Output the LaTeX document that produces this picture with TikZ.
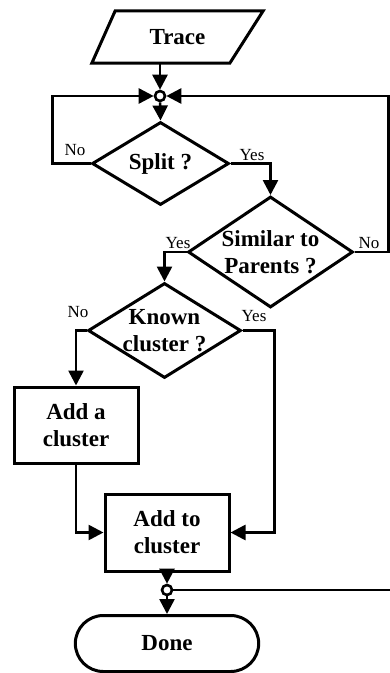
\documentclass[tikz,border=0pt]{standalone}
\usepackage{fontspec}
\setmainfont{Liberation Serif}
\usepackage{tikz}
\usetikzlibrary{positioning,arrows.meta,shapes.geometric,shapes.misc}

\begin{document}
\begin{tikzpicture}[
    x=1pt, y=-1pt,
    >={Triangle[length=15pt,width=15pt]},
    every node/.style={font=\fontsize{23}{27}\selectfont\bfseries},
    io/.style={rectangle, minimum width=171pt, minimum height=52pt, inner sep=0pt},
    decision/.style={draw, diamond, line width=3pt, inner sep=0pt},
    dtext/.style={align=center, inner sep=0pt},
    process/.style={draw, rectangle, line width=3pt, align=center},
    terminal/.style={draw, rounded rectangle, line width=3pt, minimum width=190pt, minimum height=56pt},
    junction/.style={draw, circle, fill=white, line width=2.6pt, minimum size=10pt, inner sep=0pt},
    lbl/.style={font=\fontsize{17}{19}\selectfont, inner sep=0pt},
    flow/.style={->, line width=2.6pt}
]
    \useasboundingbox (0,0) rectangle (390,673);

    \node[io]        (trace)   at (177.5,37)  {Trace};
    \draw[line width=3pt, line join=miter]
        (trace.south west) -- ++(138,0) -- (trace.north east) -- ++(-148,0) -- cycle;
    \node[junction]  (join)    at (160,96)    {};
    \node[decision, minimum width=137pt, minimum height=83pt]  (split)   at (160.5,163.5) {};
    \node[dtext]     (splittxt)   at (split)   {Split ?};
    \node[decision, minimum width=165pt, minimum height=111pt] (similar) at (270.5,252)   {};
    \node[dtext]     (similartxt) at (similar) {Similar to\\Parents ?};
    \node[decision, minimum width=153pt, minimum height=95pt]  (known)   at (164.5,330.5) {};
    \node[dtext]     (knowntxt)   at (known)   {Known\\cluster ?};
    \node[process, minimum width=124pt, minimum height=76pt]   (addnew)  at (76,425)      {Add a\\cluster};
    \node[process, minimum width=124pt, minimum height=77pt]   (addto)   at (167,532.5)   {Add to\\cluster};
    \node[junction]  (merge)   at (167,590)   {};
    \node[terminal]  (done)    at (167,643.5) {Done};
    \coordinate      (out)     at (390,590);

    % branch labels
    \node[lbl] (nosplit)    at (75,150)  {No};
    \node[lbl] (yessplit)   at (252,155) {Yes};
    \node[lbl] (nosimilar)  at (369,243) {No};
    \node[lbl] (yessimilar) at (178,243) {Yes};
    \node[lbl] (noknown)    at (78,312)  {No};
    \node[lbl] (yesknown)   at (254,316) {Yes};

    \draw[flow] (trace.south -| join) -- (join);
    \draw[flow] (join) -- (split.north);
    \draw[flow] (split.west) -- ++(-38,0) |- (join);
    \draw[flow] (split.east) -| (similar.north);
    \draw[flow] (similar.east) -- ++(34,0) |- (join);
    \draw[flow] (similar.west) -| (known.north);
    \draw[flow] (known.west) -| (addnew.north);
    \draw[flow] (known.east) -- ++(32,0) |- (addto.east);
    \draw[flow] (addnew.south) |- (addto.west);
    \draw[flow] (addto.south) -- (merge);
    \draw[flow] (merge) -- (done.north);
    \draw[line width=2.6pt] (merge) -- (out);
\end{tikzpicture}
\end{document}
